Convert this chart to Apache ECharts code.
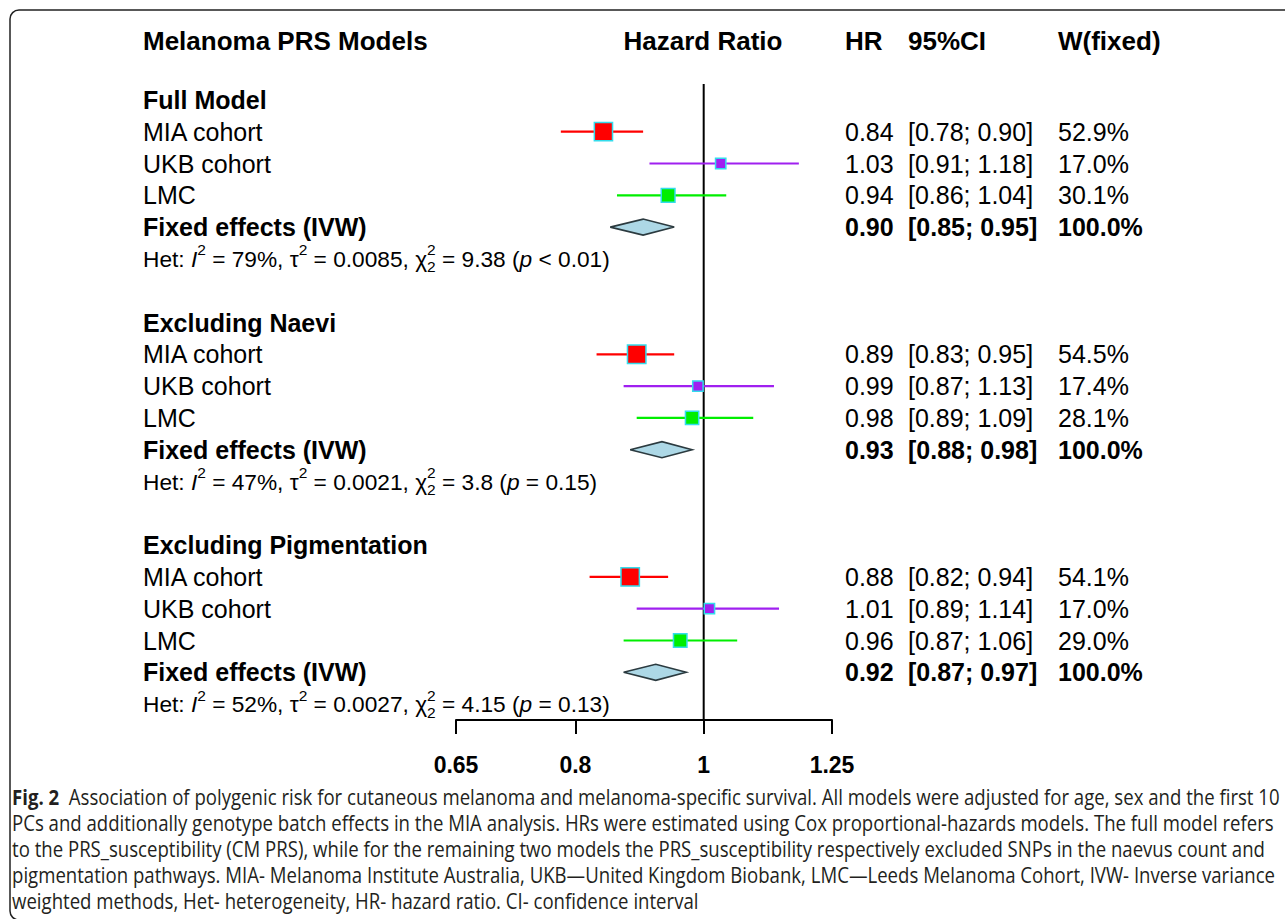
<!DOCTYPE html>
<html><head><meta charset="utf-8">
<script src="https://cdn.jsdelivr.net/npm/echarts@6/dist/echarts.min.js"></script>
<style>html,body{margin:0;padding:0;background:#fff}#c{width:1285px;height:919px}</style>
</head><body><div id="c"></div>
<script>
// ---------------- data ----------------
const groups = ['Full Model', 'Excluding Naevi', 'Excluding Pigmentation'];
const studies = ['MIA cohort', 'UKB cohort', 'LMC'];
const pooledLabel = 'Fixed effects (IVW)';
const hr      = [[0.84, 1.03, 0.94], [0.89, 0.99, 0.98], [0.88, 1.01, 0.96]];
const ciLower = [[0.78, 0.91, 0.86], [0.83, 0.87, 0.89], [0.82, 0.89, 0.87]];
const ciUpper = [[0.90, 1.18, 1.04], [0.95, 1.13, 1.09], [0.94, 1.14, 1.06]];
const weights = [[52.9, 17.0, 30.1], [54.5, 17.4, 28.1], [54.1, 17.0, 29.0]];
const pooledHR    = [0.90, 0.93, 0.92];
const pooledLower = [0.85, 0.88, 0.87];
const pooledUpper = [0.95, 0.98, 0.97];
const hetI2   = ['79%', '47%', '52%'];
const hetTau2 = ['0.0085', '0.0021', '0.0027'];
const hetChi2 = ['9.38', '3.8', '4.15'];
const hetP    = ['< 0.01', '= 0.15', '= 0.13'];
const xTicks      = [0.65, 0.8, 1, 1.25];
const xTickLabels = ['0.65', '0.8', '1', '1.25'];
const headerLabels = ['Melanoma PRS Models', 'Hazard Ratio', 'HR', '95%CI', 'W(fixed)'];
const captionBold = 'Fig. 2';
const captionLines = [
  '  Association of polygenic risk for cutaneous melanoma and melanoma-specific survival. All models were adjusted for age, sex and the first 10',
  'PCs and additionally genotype batch effects in the MIA analysis. HRs were estimated using Cox proportional-hazards models. The full model refers',
  'to the PRS_susceptibility (CM PRS), while for the remaining two models the PRS_susceptibility respectively excluded SNPs in the naevus count and',
  'pigmentation pathways. MIA- Melanoma Institute Australia, UKB\u2014United Kingdom Biobank, LMC\u2014Leeds Melanoma Cohort, IVW- Inverse variance',
  'weighted methods, Het- heterogeneity, HR- hazard ratio. CI- confidence interval'
];

// ---------------- styles ----------------
const FONT = '"Liberation Sans", Arial, Helvetica, sans-serif';
const CAP_FONT = '"Open Sans", "Noto Sans", sans-serif';
const studyColors = ['#ff0000', '#a020f0', '#00ee00'];
const squareBorder = '#33dcec';

// ---------------- rows ----------------
const rows = [];
const studyRow = [[], [], []];
const pooledRow = [], hetRow = [];
groups.forEach((g, gi) => {
  rows.push({type: 'group', label: g});
  studies.forEach((s, si) => { studyRow[gi][si] = rows.length; rows.push({type: 'study', label: s, g: gi, s: si}); });
  pooledRow[gi] = rows.length; rows.push({type: 'pooled', label: pooledLabel, g: gi});
  hetRow[gi] = rows.length; rows.push({type: 'het', g: gi});
  if (gi < groups.length - 1) rows.push({type: 'blank'});
});
const cats = rows.map((r, i) => 'r' + i);
const ln = Math.log;

function leftLabel(v, i) {
  const r = rows[i];
  if (!r) return '';
  if (r.type === 'group') return '{b|' + r.label + '}';
  if (r.type === 'study') return '{n|' + r.label + '}';
  if (r.type === 'pooled') return '{b|' + r.label + '}';
  return '';
}
function rightLabel(v, i) {
  const r = rows[i];
  if (!r) return '';
  if (r.type === 'study') {
    const g = r.g, s = r.s;
    return '{h|' + hr[g][s].toFixed(2) + '}{c|[' + ciLower[g][s].toFixed(2) + '; ' + ciUpper[g][s].toFixed(2) + ']}{w|' + weights[g][s].toFixed(1) + '%}';
  }
  if (r.type === 'pooled') {
    const g = r.g;
    return '{hb|' + pooledHR[g].toFixed(2) + '}{cb|[' + pooledLower[g].toFixed(2) + '; ' + pooledUpper[g].toFixed(2) + ']}{wb|100.0%}';
  }
  return '';
}

const studySeries = studies.map((s, si) => ({
  type: 'custom', name: s, xAxisIndex: 0, yAxisIndex: 0,
  encode: {x: [0, 2, 3], y: 1},
  data: groups.map((g, gi) => [ln(hr[gi][si]), studyRow[gi][si], ln(ciLower[gi][si]), ln(ciUpper[gi][si]), weights[gi][si]]),
  renderItem: (params, api) => {
    const y = api.value(1);
    const c = api.coord([api.value(0), y]);
    const l = api.coord([api.value(2), y]);
    const r = api.coord([api.value(3), y]);
    const size = 2.5 * Math.sqrt(api.value(4));
    return {type: 'group', children: [
      {type: 'line', shape: {x1: l[0], y1: c[1], x2: r[0], y2: c[1]}, style: {stroke: studyColors[si], lineWidth: 2.2}},
      {type: 'rect', shape: {x: c[0] - size / 2, y: c[1] - size / 2, width: size, height: size}, style: {fill: studyColors[si], stroke: squareBorder, lineWidth: 1.5}}
    ]};
  },
  z: 5
}));

const diamondSeries = {
  type: 'custom', name: pooledLabel, encode: {x: [0, 2, 3], y: 1},
  data: groups.map((g, gi) => [ln(pooledHR[gi]), pooledRow[gi], ln(pooledLower[gi]), ln(pooledUpper[gi])]),
  renderItem: (params, api) => {
    const y = api.value(1);
    const c = api.coord([api.value(0), y]);
    const l = api.coord([api.value(2), y]);
    const r = api.coord([api.value(3), y]);
    const h = 8;
    return {type: 'polygon', shape: {points: [[l[0], c[1]], [c[0], c[1] - h], [r[0], c[1]], [c[0], c[1] + h]]},
      style: {fill: '#add8e6', stroke: '#2b3a3f', lineWidth: 1.6}};
  },
  z: 6
};

const refLineSeries = {
  type: 'custom', name: 'ref', encode: {x: 0, y: 1},
  data: [[ln(1), 0]],
  renderItem: (params, api) => {
    const x = api.coord([api.value(0), 0])[0];
    const cs = params.coordSys;
    return {type: 'line', shape: {x1: x, y1: cs.y, x2: x, y2: cs.y + cs.height}, style: {stroke: '#000', lineWidth: 2}};
  },
  z: 3
};

const chart = echarts.init(document.getElementById('c'), null, {renderer: 'svg'});
const option = {
  animation: false,
  backgroundColor: '#fff',
  grid: {left: 456, right: 453, top: 84, bottom: 199, containLabel: false},
  xAxis: {
    type: 'value', min: ln(0.65), max: ln(1.25),
    axisLine: {show: true, lineStyle: {color: '#000', width: 2}},
    axisTick: {show: true, customValues: xTicks.map(ln), length: 14, lineStyle: {color: '#000', width: 2}},
    axisLabel: {
      customValues: xTicks.map(ln), margin: 33,
      fontFamily: FONT, fontSize: 23, fontWeight: 'bold', color: '#000',
      formatter: v => { let best = 0; xTicks.forEach((t, i) => { if (Math.abs(ln(t) - v) < Math.abs(ln(xTicks[best]) - v)) best = i; }); return xTickLabels[best]; }
    },
    splitLine: {show: false}
  },
  yAxis: [
    {type: 'category', data: cats, inverse: true, position: 'left',
      axisLine: {show: false}, axisTick: {show: false}, splitLine: {show: false},
      axisLabel: {interval: 0, align: 'left', margin: 313, formatter: leftLabel,
        rich: {
          b: {fontFamily: FONT, fontSize: 25, fontWeight: 'bold', color: '#000'},
          n: {fontFamily: FONT, fontSize: 25, color: '#000'}
        }}},
    {type: 'category', data: cats, inverse: true, position: 'right',
      axisLine: {show: false}, axisTick: {show: false}, splitLine: {show: false},
      axisLabel: {interval: 0, align: 'left', margin: 13, formatter: rightLabel,
        rich: {
          h: {fontFamily: FONT, fontSize: 25, color: '#000', width: 63},
          c: {fontFamily: FONT, fontSize: 25, color: '#000', width: 150},
          w: {fontFamily: FONT, fontSize: 25, color: '#000'},
          hb: {fontFamily: FONT, fontSize: 25, fontWeight: 'bold', color: '#000', width: 63},
          cb: {fontFamily: FONT, fontSize: 25, fontWeight: 'bold', color: '#000', width: 150},
          wb: {fontFamily: FONT, fontSize: 25, fontWeight: 'bold', color: '#000'}
        }}}
  ],
  series: [refLineSeries, ...studySeries, diamondSeries]
};
chart.setOption(option);

// ---------------- texts (headers, heterogeneity lines, caption, frame) ----------------
const ctx = document.createElement('canvas').getContext('2d');
function mw(text, font) { ctx.font = font; return ctx.measureText(text).width; }

const graphics = [];
graphics.push({type: 'rect', shape: {x: 10, y: 10, width: 1290, height: 910, r: 9},
  style: {fill: 'none', stroke: '#222', lineWidth: 1.5}, silent: true});

const headerX = [143, 703, 845, 908, 1058];
const headerAlign = ['left', 'center', 'left', 'left', 'left'];
headerLabels.forEach((t, i) => graphics.push({type: 'text', x: headerX[i], y: 41,
  style: {text: t, font: 'bold 26px ' + FONT, fill: '#000', align: headerAlign[i], verticalAlign: 'middle'}}));

const HS = 22.7, SS = 15.5;
const fBase = HS + 'px ' + FONT, fIt = 'italic ' + HS + 'px ' + FONT, fSm = SS + 'px ' + FONT;
groups.forEach((g, gi) => {
  const y = chart.convertToPixel({gridIndex: 0}, [0, hetRow[gi]])[1];
  const segs = [
    {t: 'Het: ', f: fBase}, {t: 'I', f: fIt}, {t: '2', f: fSm, dy: -9},
    {t: ' = ' + hetI2[gi] + ', ', f: fBase}, {t: '\u03c4', f: fBase}, {t: '2', f: fSm, dy: -9},
    {t: ' = ' + hetTau2[gi] + ', ', f: fBase}, {t: '\u03c7', f: fBase},
    {t: '2', f: fSm, dy: -9, noAdv: true}, {t: '2', f: fSm, dy: 8},
    {t: ' = ' + hetChi2[gi] + ' (', f: fBase}, {t: 'p', f: fIt}, {t: ' ' + hetP[gi] + ')', f: fBase}
  ];
  let x = 143;
  segs.forEach(s => {
    graphics.push({type: 'text', x: x, y: y + (s.dy || 0),
      style: {text: s.t, font: s.f, fill: '#000', align: 'left', verticalAlign: 'middle'}});
    if (!s.noAdv) x += mw(s.t, s.f);
  });
});

const CS = 21;
const capBoldFont = 'bold ' + CS + 'px ' + CAP_FONT, capFont = CS + 'px ' + CAP_FONT;
const line1W = mw(captionBold, capBoldFont) + mw(captionLines[0], capFont);
const sx = 1268 / line1W;
captionLines.forEach((t, i) => {
  const y = 797 + 26 * i;
  const text = i === 0 ? '{fb|' + captionBold + '}{fn|' + t + '}' : '{fn|' + t + '}';
  graphics.push({type: 'text', x: 12, y: y, scaleX: sx, originX: 0, originY: 0,
    style: {text: text, align: 'left', verticalAlign: 'middle',
      rich: {fb: {font: capBoldFont, fill: '#231f20'}, fn: {font: capFont, fill: '#231f20'}}}});
});
chart.setOption({graphic: {elements: graphics}});
</script>
</body></html>
